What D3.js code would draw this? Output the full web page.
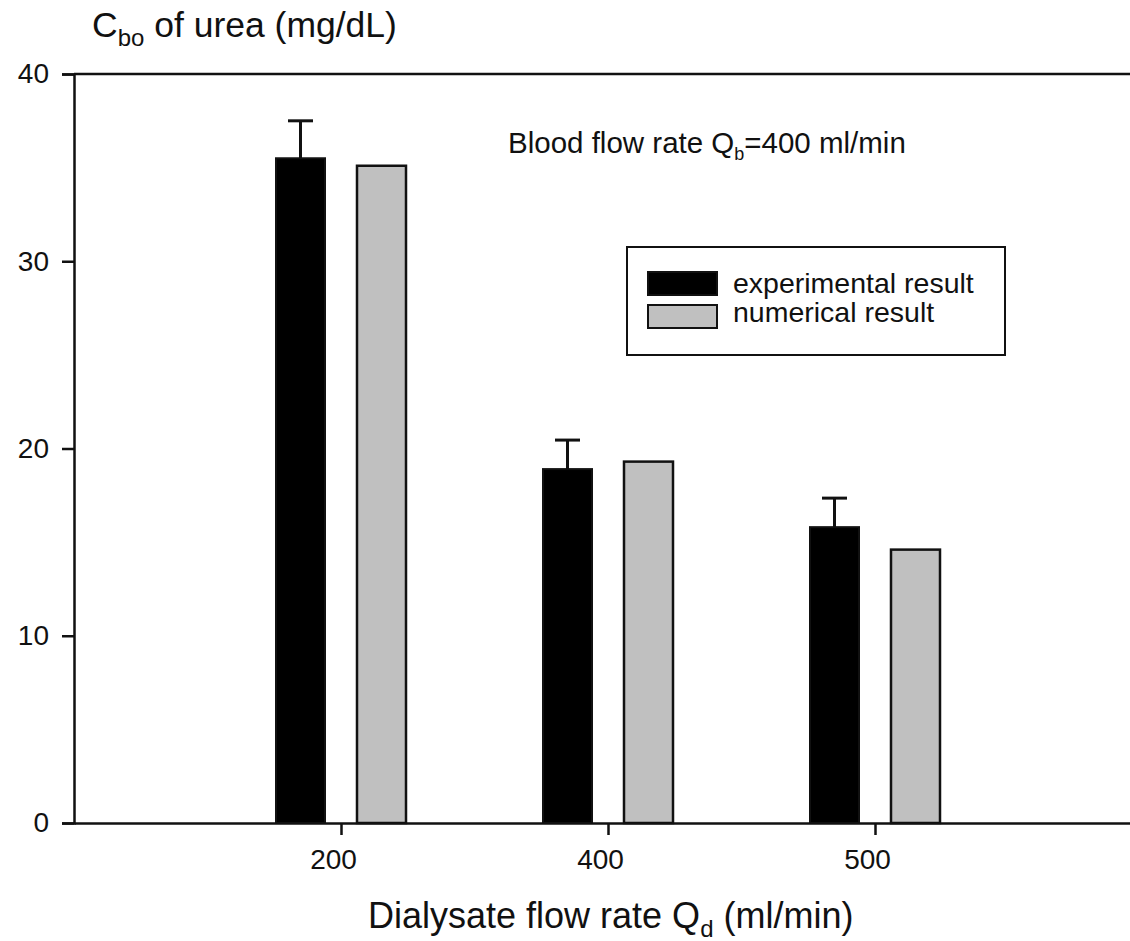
<!DOCTYPE html>
<html>
<head>
<meta charset="utf-8">
<script src="https://cdn.jsdelivr.net/npm/d3@7"></script>
<style>
  body { margin: 0; background: white; }
  text { font-family: Arial, "Liberation Sans", sans-serif; fill: #111; }
</style>
</head>
<body>
<div id="chart"></div>
<script>
// Cbo of urea vs dialysate flow rate

var flowRates = ["200", "400", "500"];
var seriesNames = ["experimental result", "numerical result"];
var expValues = [35.5, 18.9, 15.8];
var expErrors = [2.0, 1.55, 1.55];
var numValues = [35.1, 19.3, 14.6];
var yTicks = [0, 10, 20, 30, 40];

var W = 1130, H = 941;
var pLeft = 74, pRight = 1142, pTop = 74, pBottom = 823;

var svg = d3.select("#chart").append("svg").attr("width", W).attr("height", H);

var x = d3.scalePoint().domain(flowRates).range([pLeft, pRight]).padding(1);
var inner = d3.scaleBand().domain(["exp", "num"]).range([-65, 65]).paddingInner(0.395);
var y = d3.scaleLinear().domain([0, 40]).range([pBottom, pTop]);

// frame top line
svg.append("line").attr("x1", pLeft).attr("x2", pRight).attr("y1", pTop).attr("y2", pTop)
  .style("stroke", "#111").style("stroke-width", 2.5);

// y axis
var yAxis = svg.append("g").attr("transform", "translate(" + pLeft + ",0)")
  .call(d3.axisLeft(y).tickValues(yTicks).tickSize(12).tickPadding(13).tickFormat(d3.format("d")));
yAxis.select(".domain").style("stroke", "#111").style("stroke-width", 2.5);
yAxis.selectAll(".tick line").style("stroke", "#111").style("stroke-width", 2.5);
yAxis.selectAll(".tick text").style("font-size", "28px").style("font-family", "Arial, 'Liberation Sans', sans-serif").attr("fill", "#111");

// bars
var rows = flowRates.map(function(f, i){ return {f: f, e: expValues[i], err: expErrors[i], n: numValues[i]}; });

var grp = svg.selectAll("g.grp").data(rows).enter().append("g").attr("class", "grp")
  .attr("transform", function(d){ return "translate(" + x(d.f) + ",0)"; });

grp.append("line")
  .attr("x1", inner("exp") + inner.bandwidth()/2).attr("x2", inner("exp") + inner.bandwidth()/2)
  .attr("y1", function(d){ return y(d.e); }).attr("y2", function(d){ return y(d.e + d.err); })
  .style("stroke", "#111").style("stroke-width", 3);
grp.append("line")
  .attr("x1", inner("exp") + inner.bandwidth()/2 - 12.5).attr("x2", inner("exp") + inner.bandwidth()/2 + 12.5)
  .attr("y1", function(d){ return y(d.e + d.err); }).attr("y2", function(d){ return y(d.e + d.err); })
  .style("stroke", "#111").style("stroke-width", 3);

grp.append("rect")
  .attr("x", inner("exp")).attr("width", inner.bandwidth())
  .attr("y", function(d){ return y(d.e); }).attr("height", function(d){ return pBottom - y(d.e); })
  .attr("fill", "#000").style("stroke", "#111").style("stroke-width", 2);
grp.append("rect")
  .attr("x", inner("num")).attr("width", inner.bandwidth())
  .attr("y", function(d){ return y(d.n); }).attr("height", function(d){ return pBottom - y(d.n); })
  .attr("fill", "#c0c0c0").style("stroke", "#111").style("stroke-width", 2.5);

// x axis
var xAxis = svg.append("g").attr("transform", "translate(0," + pBottom + ")")
  .call(d3.axisBottom(x).tickSize(12).tickPadding(14).tickSizeOuter(0));
xAxis.select(".domain").style("stroke", "#111").style("stroke-width", 2.5);
xAxis.selectAll(".tick line").style("stroke", "#111").style("stroke-width", 2.5);
xAxis.selectAll(".tick text").style("font-size", "28px").style("font-family", "Arial, 'Liberation Sans', sans-serif")
  .attr("fill", "#111").attr("dx", -8);

// y title
var yt = svg.append("text").attr("x", 92).attr("y", 37).style("font-size", "35.5px");
yt.append("tspan").text("C");
yt.append("tspan").attr("dy", 9).style("font-size", "24px").text("bo");
yt.append("tspan").attr("dy", -9).text(" of urea (mg/dL)");

// x title
var xt = svg.append("text").attr("x", 368).attr("y", 928).style("font-size", "36px");
xt.append("tspan").text("Dialysate flow rate Q");
xt.append("tspan").attr("dy", 9).style("font-size", "24px").text("d");
xt.append("tspan").attr("dy", -9).text(" (ml/min)");

// annotation
var an = svg.append("text").attr("x", 508).attr("y", 153).style("font-size", "29.5px");
an.append("tspan").text("Blood flow rate Q");
an.append("tspan").attr("dy", 7).style("font-size", "18px").text("b");
an.append("tspan").attr("dy", -7).text("=400 ml/min");

// legend
var lg = svg.append("g").attr("transform", "translate(627,247)");
lg.append("rect").attr("width", 378).attr("height", 108).attr("fill", "none")
  .style("stroke", "#111").style("stroke-width", 2);
var fills = ["#000", "#c0c0c0"];
lg.selectAll("rect.sw").data(seriesNames).enter().append("rect").attr("class", "sw")
  .attr("x", 21).attr("y", function(d, i){ return 25 + i*33; })
  .attr("width", 69).attr("height", 23)
  .attr("fill", function(d, i){ return fills[i]; }).style("stroke", "#111").style("stroke-width", 2);
lg.selectAll("text.lt").data(seriesNames).enter().append("text").attr("class", "lt")
  .attr("x", 106).attr("y", function(d, i){ return 46 + i*29; })
  .style("font-size", "28.5px").text(function(d){ return d; });
</script>
</body>
</html>
